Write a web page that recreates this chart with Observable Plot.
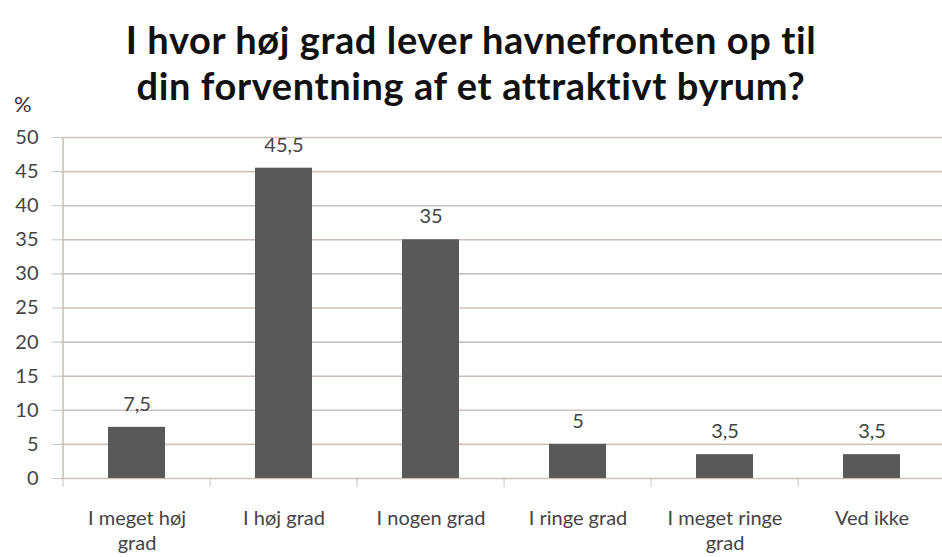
<!DOCTYPE html>
<html>
<head>
<meta charset="utf-8">
<script src="https://cdn.jsdelivr.net/npm/d3@7"></script>
<script src="https://cdn.jsdelivr.net/npm/@observablehq/plot@0.6"></script>
<style>
  html, body { margin: 0; padding: 0; background: #fff; overflow: hidden; width: 942px; height: 557px; }
  #wrap { position: relative; width: 942px; height: 557px; }
  #title { height: 85px; width: 942px; text-align: center; font-family: Lato, sans-serif; font-weight: bold;
           font-size: 38px; line-height: 46px; letter-spacing: 0.6px; color: #111; box-sizing: border-box; padding-top: 16px; }
  #title div { white-space: nowrap; }
  #pct { position: absolute; left: 14px; top: 90px; font-family: Lato, sans-serif; font-size: 22px; color: #333; }
  #chart svg { display: block; }
</style>
</head>
<body>
<div id="wrap">
  <div id="title"><div>I hvor høj grad lever havnefronten op til</div><div>din forventning af et attraktivt byrum?</div></div>
  <div id="pct">%</div>
  <div id="chart"></div>
</div>
<script>
const categories = ["I meget høj grad", "I høj grad", "I nogen grad", "I ringe grad", "I meget ringe grad", "Ved ikke"];
const tickLabels = ["I meget høj\ngrad", "I høj grad", "I nogen grad", "I ringe grad", "I meget ringe\ngrad", "Ved ikke"];
const values = [7.5, 45.5, 35, 5, 3.5, 3.5];
const valueLabels = ["7,5", "45,5", "35", "5", "3,5", "3,5"];
const yTicks = [0, 5, 10, 15, 20, 25, 30, 35, 40, 45, 50];

const data = categories.map((c, i) => ({category: c, value: values[i], label: valueLabels[i]}));

const width = 942, height = 472;
const marginLeft = 61, marginRight = -6, marginTop = 52, marginBottom = 79;
const step = (width - marginLeft - marginRight) / categories.length;
const gridColor = "#cbc2be";

const chart = Plot.plot({
  width, height, marginLeft, marginRight, marginTop, marginBottom,
  style: {fontFamily: "Lato, sans-serif", background: "#fff", overflow: "hidden"},
  x: {domain: categories, paddingInner: 0.61, paddingOuter: 0.305, align: 0.5},
  y: {domain: [0, 50]},
  marks: [
    Plot.ruleY(yTicks, {stroke: gridColor, strokeWidth: 1.6}),
    Plot.ruleX([categories[0]], {y1: 0, y2: 50, dx: -step / 2, stroke: gridColor, strokeWidth: 1.6}),
    Plot.axisY({ticks: yTicks, tickSize: 9, tickPadding: 14, stroke: gridColor, label: null,
                fontSize: 20, fill: "#444", tickFormat: d => String(d)}),
    Plot.axisX({tickSize: 9, dx: -step / 2, stroke: gridColor, tickFormat: () => "", label: null}),
    Plot.axisX({tickSize: 0, tickPadding: 29, label: null, fontSize: 20, fill: "#444", lineHeight: 1.25,
                tickFormat: (d) => tickLabels[categories.indexOf(d)]}),
    Plot.barY(data, {x: "category", y: "value", fill: "#595959"}),
    Plot.text(data, {x: "category", y: "value", text: "label", dy: -23, fontSize: 20, fill: "#444"})
  ]
});
document.getElementById("chart").appendChild(chart);
</script>
</body>
</html>
